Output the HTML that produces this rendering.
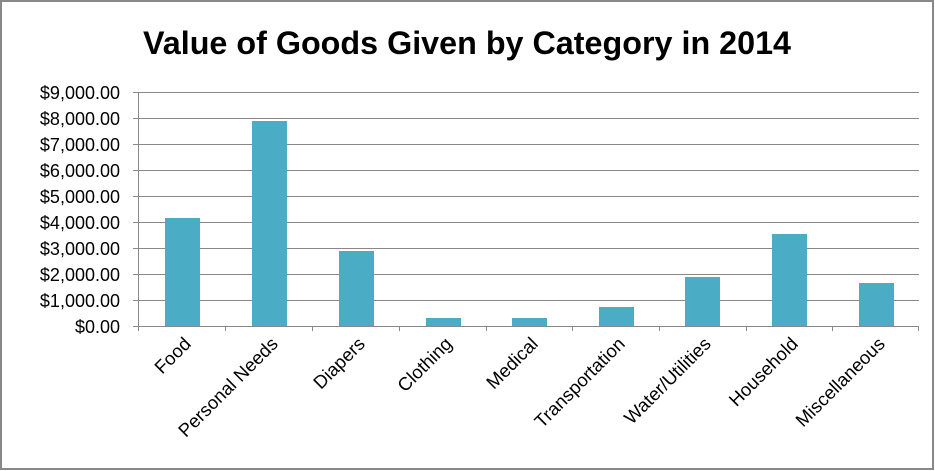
<!DOCTYPE html><html><head><style>body{margin:0;background:#fff}svg{display:block}</style></head><body>
<svg width="935" height="471" xmlns="http://www.w3.org/2000/svg" font-family="Liberation Sans, sans-serif">
<rect x="1" y="1" width="932" height="468" fill="#fff" stroke="#888" stroke-width="2"/>
<text x="143" y="54" font-size="32" font-weight="bold" textLength="648" lengthAdjust="spacingAndGlyphs">Value of Goods Given by Category in 2014</text>
<g stroke="#888" stroke-width="1">
<line x1="133" y1="92.5" x2="919" y2="92.5"/><line x1="133" y1="118.5" x2="919" y2="118.5"/><line x1="133" y1="144.5" x2="919" y2="144.5"/><line x1="133" y1="170.5" x2="919" y2="170.5"/><line x1="133" y1="196.5" x2="919" y2="196.5"/><line x1="133" y1="222.5" x2="919" y2="222.5"/><line x1="133" y1="248.5" x2="919" y2="248.5"/><line x1="133" y1="274.5" x2="919" y2="274.5"/><line x1="133" y1="300.5" x2="919" y2="300.5"/>
<line x1="138.5" y1="92" x2="138.5" y2="331"/>
</g>
<g fill="#4BACC6">
<rect x="165" y="218" width="35" height="108"/>
<rect x="252" y="121" width="35" height="205"/>
<rect x="339" y="251" width="35" height="75"/>
<rect x="426" y="318" width="35" height="8"/>
<rect x="512" y="318" width="35" height="8"/>
<rect x="599" y="307" width="35" height="19"/>
<rect x="685" y="277" width="35" height="49"/>
<rect x="772" y="234" width="35" height="92"/>
<rect x="859" y="283" width="35" height="43"/>
</g>
<g stroke="#888" stroke-width="1">
<line x1="133" y1="326.5" x2="919" y2="326.5"/>
<line x1="225.5" y1="326" x2="225.5" y2="331"/><line x1="312.5" y1="326" x2="312.5" y2="331"/><line x1="399.5" y1="326" x2="399.5" y2="331"/><line x1="486.5" y1="326" x2="486.5" y2="331"/><line x1="572.5" y1="326" x2="572.5" y2="331"/><line x1="659.5" y1="326" x2="659.5" y2="331"/><line x1="746.5" y1="326" x2="746.5" y2="331"/><line x1="832.5" y1="326" x2="832.5" y2="331"/><line x1="918.5" y1="326" x2="918.5" y2="331"/>
</g>
<g font-size="18" text-anchor="end" fill="#000">
<text x="120" y="99">$9,000.00</text><text x="120" y="125">$8,000.00</text><text x="120" y="151">$7,000.00</text><text x="120" y="177">$6,000.00</text><text x="120" y="203">$5,000.00</text><text x="120" y="229">$4,000.00</text><text x="120" y="255">$3,000.00</text><text x="120" y="281">$2,000.00</text><text x="120" y="307">$1,000.00</text><text x="120" y="333">$0.00</text>
</g>
<g font-size="18.5" text-anchor="end" fill="#000">
<text transform="translate(192,345) rotate(-45)">Food</text>
<text transform="translate(279,345) rotate(-45)">Personal Needs</text>
<text transform="translate(366,345) rotate(-45)">Diapers</text>
<text transform="translate(453,345) rotate(-45)">Clothing</text>
<text transform="translate(539,345) rotate(-45)">Medical</text>
<text transform="translate(626,345) rotate(-45)">Transportation</text>
<text transform="translate(712,345) rotate(-45)">Water/Utilities</text>
<text transform="translate(799,345) rotate(-45)">Household</text>
<text transform="translate(886,345) rotate(-45)">Miscellaneous</text>
</g>
</svg></body></html>
